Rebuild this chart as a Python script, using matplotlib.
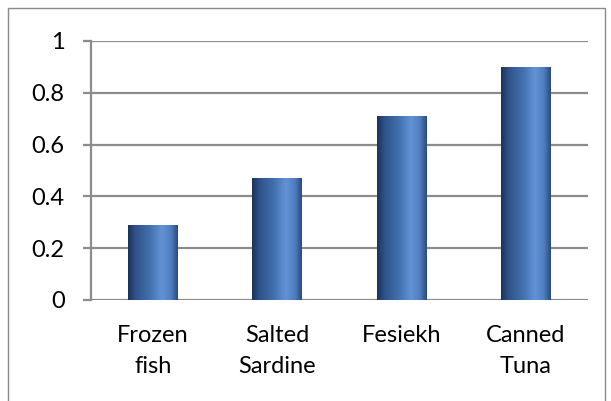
import numpy as np
import matplotlib
matplotlib.use("Agg")
from matplotlib import pyplot as plt
from matplotlib.colors import LinearSegmentedColormap
from matplotlib.patches import Rectangle

categories = ["Frozen\nfish", "Salted\nSardine", "Fesiekh", "Canned\nTuna"]
values = [0.29, 0.47, 0.71, 0.90]
yticks = [0, 0.2, 0.4, 0.6, 0.8, 1]
ytick_labels = ["0", "0.2", "0.4", "0.6", "0.8", "1"]

plt.rcParams['font.family'] = ['Lato', 'DejaVu Sans']

fig = plt.figure(figsize=(6.11, 4.01), dpi=100)
ax = fig.add_axes([0.149, 0.252, 0.813, 0.646])

# outer chart border
fig.patches.append(Rectangle((8/611, -0.05), 597/611, 1 - 8/401 + 0.05,
                             transform=fig.transFigure, fill=False,
                             edgecolor="#8a8a8a", linewidth=1.0))

x = np.arange(len(categories))
bars = ax.bar(x, values, width=0.4, color="none", edgecolor="none", zorder=3)

# cylinder-ish horizontal gradient like Excel
grad = LinearSegmentedColormap.from_list("bar", [
    (0.0, "#1b335a"), (0.15, "#2f5288"), (0.45, "#4372b0"),
    (0.68, "#6393d6"), (0.86, "#4f7ec0"), (1.0, "#2a4a7c")])
g = np.linspace(0, 1, 256).reshape(1, -1)
for b in bars:
    x0, y0 = b.get_x(), b.get_y()
    w, h = b.get_width(), b.get_height()
    im = ax.imshow(g, cmap=grad, aspect="auto", extent=(x0, x0 + w, y0, y0 + h),
                   zorder=3, interpolation="bilinear")
    im.set_clip_path(b)

ax.set_xlim(-0.5, len(categories) - 0.5)
ax.set_ylim(0, 1)
ax.set_yticks(yticks)
ax.set_yticklabels(ytick_labels)
ax.set_xticks(x)
ax.set_xticklabels(categories, linespacing=1.6)

ax.yaxis.grid(True, color="#8c8c8c", linewidth=1.6, zorder=1)
ax.set_axisbelow(True)
for s in ["top", "right", "bottom"]:
    ax.spines[s].set_visible(False)
ax.spines["left"].set_color("#8c8c8c")
ax.spines["left"].set_linewidth(1.6)

ax.tick_params(axis="y", length=6, width=1.6, color="#8c8c8c", pad=13,
               labelsize=17, labelcolor="black")
ax.tick_params(axis="x", length=0, pad=18, labelsize=17, labelcolor="black")

fig.savefig("out.png", dpi=100)
